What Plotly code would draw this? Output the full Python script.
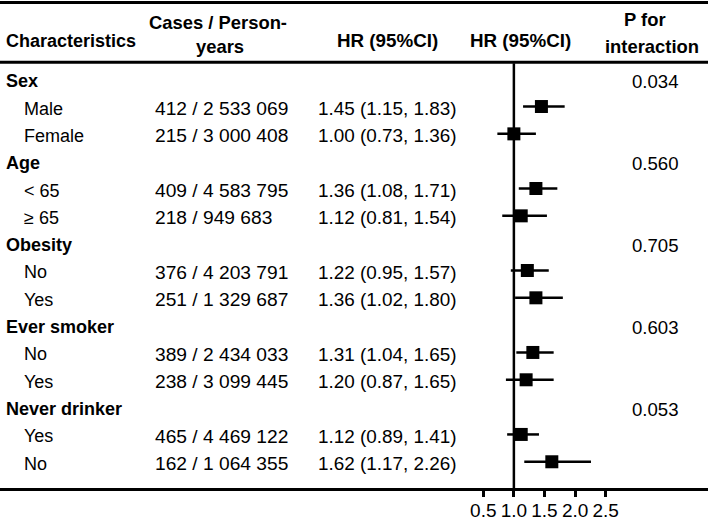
import plotly.graph_objects as go

# forest plot: subgroup HRs with table columns

groups = ["Sex", "Age", "Obesity", "Ever smoker", "Never drinker"]
subgroups = [["Male", "Female"], ["< 65", "≥ 65"], ["No", "Yes"], ["No", "Yes"], ["Yes", "No"]]
cases = ["412 / 2 533 069", "215 / 3 000 408",
         "409 / 4 583 795", "218 / 949 683",
         "376 / 4 203 791", "251 / 1 329 687",
         "389 / 2 434 033", "238 / 3 099 445",
         "465 / 4 469 122", "162 / 1 064 355"]
hr = [1.45, 1.00, 1.36, 1.12, 1.22, 1.36, 1.31, 1.20, 1.12, 1.62]
lo = [1.15, 0.73, 1.08, 0.81, 0.95, 1.02, 1.04, 0.87, 0.89, 1.17]
hi = [1.83, 1.36, 1.71, 1.54, 1.57, 1.80, 1.65, 1.65, 1.41, 2.26]
p_int = ["0.034", "0.560", "0.705", "0.603", "0.053"]
tick_vals = [0.5, 1.0, 1.5, 2.0, 2.5]

W, H = 708, 521
TOP, BOT = 1, 28
PH = H - TOP - BOT
FONT = "Liberation Sans, Arial, sans-serif"

# row index for each subgroup
rows = []
for g in range(len(groups)):
    rows += [3 * g + 1, 3 * g + 2]

fig = go.Figure()
fig.add_trace(go.Scatter(
    x=hr, y=rows, mode="markers",
    marker=dict(symbol="square", size=13, color="black"),
    error_x=dict(type="data", symmetric=False,
                 array=[h - v for h, v in zip(hi, hr)],
                 arrayminus=[v - l for v, l in zip(hr, lo)],
                 thickness=2.5, width=0, color="black"),
    showlegend=False, hoverinfo="skip",
))

ann = []
def txt(x, y, s, anchor="left", yref="y", size=18):
    ann.append(dict(x=x / W, xref="paper", y=y, yref=yref, text=s,
                    showarrow=False, xanchor=anchor, yanchor="middle", yshift=-2,
                    font=dict(family=FONT, size=size, color="black")))

# header: paper y from a pixel position in the window
def py(px):
    return 1 - (px - TOP) / PH

txt(4, py(39), "<b>Characteristics</b>", yref="paper")
txt(218, py(20.5), "<b>Cases / Person-</b>", "center", "paper", 18.4)
txt(220, py(45), "<b>years</b>", "center", "paper", 18.4)
txt(387, py(39), "<b>HR (95%CI)</b>", "center", "paper", 18.8)
txt(520, py(39), "<b>HR (95%CI)</b>", "center", "paper", 18.8)
txt(645, py(18), "<b>P for</b>", "center", "paper", 18.4)
txt(652, py(45), "<b>interaction</b>", "center", "paper", 18.4)

for g, name in enumerate(groups):
    txt(4, 3 * g, "<b>%s</b>" % name)
    txt(655, 3 * g, p_int[g], "center", size=18.6)
    for k, sub in enumerate(subgroups[g]):
        i = 2 * g + k
        txt(22, rows[i], sub)
        txt(153, rows[i], cases[i], size=19.2)
        txt(316, rows[i], "%.2f (%.2f, %.2f)" % (hr[i], lo[i], hi[i]), size=18.9)

shapes = [
    dict(type="line", xref="paper", yref="paper", x0=0, x1=1, y0=py(2.5), y1=py(2.5),
         line=dict(color="black", width=3)),
    dict(type="line", xref="paper", yref="paper", x0=0, x1=1, y0=py(63), y1=py(63),
         line=dict(color="black", width=3)),
    dict(type="line", xref="x", yref="paper", x0=1, x1=1, y0=0, y1=py(64),
         line=dict(color="black", width=2.5)),
]

fig.update_layout(
    width=W, height=H,
    margin=dict(l=0, r=0, t=TOP, b=BOT),
    paper_bgcolor="white", plot_bgcolor="white",
    annotations=ann, shapes=shapes,
    font=dict(family=FONT, size=18, color="black"),
)
fig.update_xaxes(range=[-7.397, 4.172], tickvals=tick_vals, tickformat=".1f",
                 showgrid=False, zeroline=False, showline=True, linewidth=3,
                 linecolor="black", ticks="outside", ticklen=6, tickwidth=2.5,
                 tickcolor="black", tickfont=dict(size=19), ticklabelstandoff=-3)
fig.update_yaxes(range=[14.96, -2.862], visible=False, showgrid=False, zeroline=False)

# page has a default 8px body margin; drop it so the figure fills the window
fig.write_html("out.html", config={"displayModeBar": False},
               post_script="document.body.style.margin='0';document.body.style.overflow='hidden';")
